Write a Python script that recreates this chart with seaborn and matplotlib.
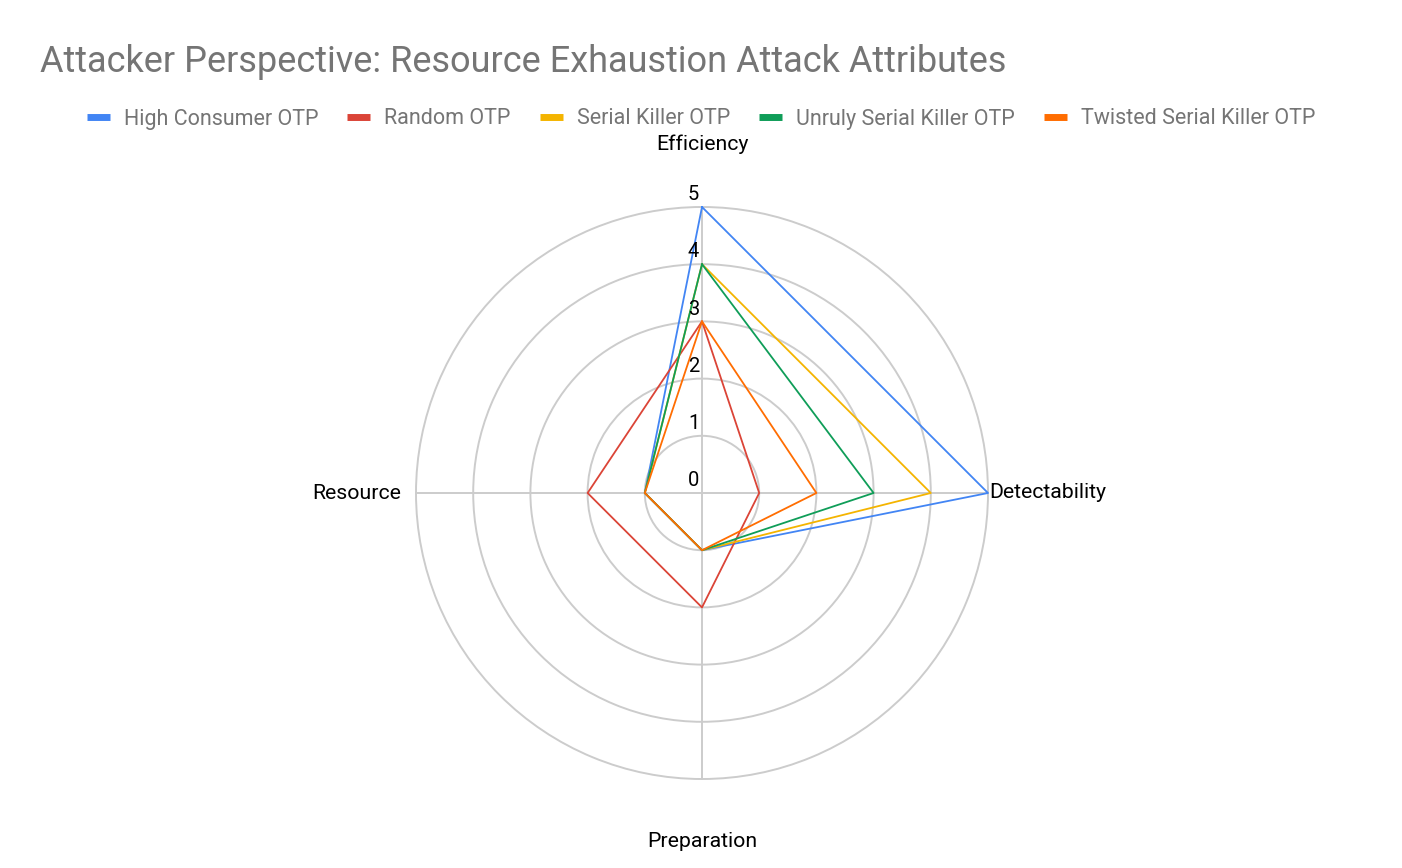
import numpy as np
import pandas as pd
import matplotlib
matplotlib.use("Agg")
import matplotlib.pyplot as plt
import seaborn as sns

# -----------------------------
# Data
# -----------------------------
axes_labels = ["Efficiency", "Detectability", "Preparation", "Resource"]
series_names = ["High Consumer OTP", "Random OTP", "Serial Killer OTP",
                "Unruly Serial Killer OTP", "Twisted Serial Killer OTP"]
high_consumer = [5, 5, 1, 1]
random_otp = [3, 1, 2, 2]
serial_killer = [4, 4, 1, 1]
unruly_serial_killer = [4, 3, 1, 1]
twisted_serial_killer = [3, 2, 1, 1]
radial_ticks = [0, 1, 2, 3, 4, 5]
colors = ["#4285F4", "#DB4437", "#F4B400", "#0F9D58", "#FF6D01"]

all_values = [high_consumer, random_otp, serial_killer,
              unruly_serial_killer, twisted_serial_killer]

# angles: clockwise from top, closed polygon
angles = np.linspace(0, 2 * np.pi, len(axes_labels), endpoint=False)
rows = []
for name, vals in zip(series_names, all_values):
    for i in range(len(axes_labels) + 1):
        k = i % len(axes_labels)
        rows.append({"series": name, "theta": angles[k] if i < len(axes_labels) else 2 * np.pi,
                     "r": vals[k], "order": i})
df = pd.DataFrame(rows)

# -----------------------------
# Figure
# -----------------------------
sns.set_style("white")
plt.rcParams["font.family"] = ["Roboto", "DejaVu Sans"]

W, H = 1402, 868
fig = plt.figure(figsize=(W / 100, H / 100), dpi=100)
cx, cy, R = 702, 493, 286
ax = fig.add_axes([(cx - R) / W, (H - cy - R) / H, 2 * R / W, 2 * R / H], projection="polar")
ax.set_theta_zero_location("N")
ax.set_theta_direction(-1)
ax.set_ylim(0, 5)

sns.lineplot(data=df, x="theta", y="r", hue="series", hue_order=series_names,
             palette=colors, sort=False, estimator=None, units="series",
             linewidth=1.3, ax=ax, legend=False)
for ln in ax.lines:
    ln.set_clip_on(False)

# grid
ax.set_yticks(radial_ticks[1:])
ax.set_yticklabels([])
ax.set_xticks(angles)
ax.set_xticklabels([])
ax.grid(True, color="#cccccc", linewidth=1.4)
for gl in ax.yaxis.get_gridlines() + ax.xaxis.get_gridlines():
    gl.set_clip_on(False)
ax.spines["polar"].set_visible(False)
ax.set_xlabel("")
ax.set_ylabel("")

# radial tick labels
for v in radial_ticks:
    ax.annotate(str(v), xy=(0, v), xytext=(-2, 2), textcoords="offset points",
                ha="right", va="bottom", fontsize=14.5, color="black")

# category labels
lab_fs = 15.3
ax.annotate(axes_labels[0], xy=(0, 5), xytext=(0, 45), textcoords="offset points",
            ha="center", va="center", fontsize=lab_fs, color="black", annotation_clip=False)
ax.annotate(axes_labels[1], xy=(np.pi / 2, 5), xytext=(1, 0), textcoords="offset points",
            ha="left", va="center", fontsize=lab_fs, color="black", annotation_clip=False)
ax.annotate(axes_labels[2], xy=(np.pi, 5), xytext=(0, -45), textcoords="offset points",
            ha="center", va="center", fontsize=lab_fs, color="black", annotation_clip=False)
ax.annotate(axes_labels[3], xy=(3 * np.pi / 2, 5), xytext=(-11, 0), textcoords="offset points",
            ha="right", va="center", fontsize=lab_fs, color="black", annotation_clip=False)

# title
fig.text(40 / W, 1 - 62 / H, "Attacker Perspective: Resource Exhaustion Attack Attributes",
         ha="left", va="center", fontsize=26, color="#757575")

# legend
handles = [plt.Line2D([], [], color=c, linewidth=5, solid_capstyle="butt") for c in colors]
fig.legend(handles, series_names, loc="center", bbox_to_anchor=(0.5, 1 - 119 / H),
           ncol=5, frameon=False, fontsize=15.5, labelcolor="#757575",
           handlelength=1.07, handletextpad=0.65, columnspacing=1.35)

fig.savefig("out.png", dpi=100)
